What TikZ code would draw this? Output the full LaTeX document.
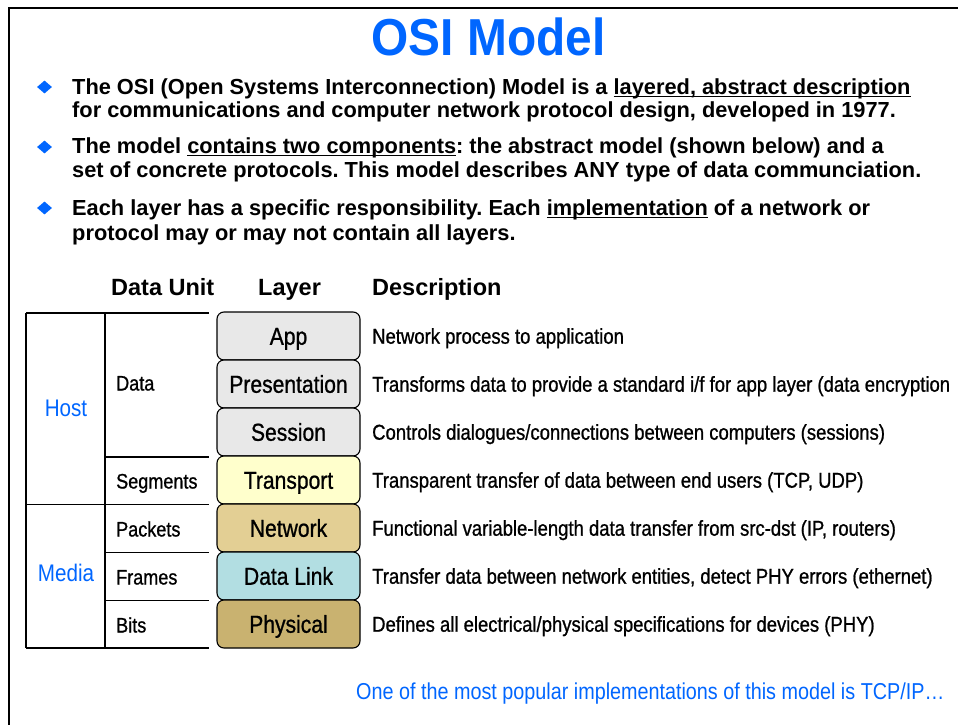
\documentclass[tikz,border=0pt]{standalone}
\usepackage{fontspec}
\setmainfont{Liberation Sans}
\newfontfamily\narrowfont[FakeStretch=0.86]{Liberation Sans}
\newfontfamily\narrowmedfont[FakeStretch=0.86,FakeBold=0.9]{Liberation Sans}
\newfontfamily\titlefont[FakeStretch=0.92]{Liberation Sans}
\frenchspacing
\newsavebox{\ulxbox}
\newcommand{\ulx}[1]{\sbox{\ulxbox}{#1}\rlap{\vrule height -2.2pt depth 3.3pt width \wd\ulxbox}\usebox{\ulxbox}}
\usetikzlibrary{shapes.geometric}
\definecolor{osiblue}{RGB}{0,102,255}
\definecolor{layergray}{RGB}{232,232,232}
\definecolor{layeryellow}{RGB}{255,255,204}
\definecolor{layertan}{RGB}{227,207,148}
\definecolor{layercyan}{RGB}{178,222,226}
\definecolor{layerbrown}{RGB}{201,178,112}
\begin{document}
\begin{tikzpicture}[x=1pt,y=-1pt,
  frameline/.style={line width=2pt, black},
  tableline/.style={line width=1.1pt, black},
  titletext/.style={inner sep=0, text=osiblue, font=\titlefont\bfseries\fontsize{52}{60}\selectfont, text height=37pt, text depth=0pt},
  bullettext/.style={anchor=base west, inner sep=0, font=\bfseries\fontsize{21.8}{26}\selectfont},
  bulletmark/.style={diamond, fill=osiblue, inner sep=0, minimum width=15pt, minimum height=13pt},
  headertext/.style={anchor=base west, inner sep=0, font=\bfseries\fontsize{23.5}{28}\selectfont},
  layerbox/.style={draw=black, line width=1.1pt, rounded corners=7pt, minimum width=143pt, minimum height=48pt, inner sep=0, font=\narrowmedfont\fontsize{24.5}{28}\selectfont, text height=17.5pt, text depth=0pt},
  desctext/.style={anchor=west, inner sep=0, font=\narrowmedfont\fontsize{21.5}{25}\selectfont, text height=15.4pt, text depth=0pt},
  unittext/.style={anchor=west, inner sep=0, font=\narrowmedfont\fontsize{21}{25}\selectfont, text height=15pt, text depth=0pt},
  grouptext/.style={inner sep=0, text=osiblue, font=\narrowfont\fontsize{24}{28}\selectfont, text height=17.2pt, text depth=0pt},
  notetext/.style={anchor=base west, inner sep=0, text=osiblue, font=\narrowfont\fontsize{23}{27}\selectfont}
]
\clip (0,0) rectangle (958,725);
\fill[white] (0,0) rectangle (958,725);
% slide frame (top and left edges visible)
\draw[frameline] (8.8,726) -- (8.8,8) -- (960,8);

% title
\node[titletext] (title) at (488.5,37.5) {OSI Model};

% bullets
\node[bulletmark] (m1) at (44.5,87) {};
\node[bullettext] (b1a) at (72,94) {The OSI (Open Systems Interconnection) Model is a \ulx{layered, abstract description}};
\node[bullettext] (b1b) at (72,117) {for communications and computer network protocol design, developed in 1977.};
\node[bulletmark] (m2) at (44.5,147) {};
\node[bullettext] (b2a) at (72,153) {The model \ulx{contains two components}: the abstract model (shown below) and a};
\node[bullettext] (b2b) at (72,177) {set of concrete protocols. This model describes ANY type of data communciation.};
\node[bulletmark] (m3) at (44.5,208) {};
\node[bullettext] (b3a) at (72,215) {Each layer has a specific responsibility. Each \ulx{implementation} of a network or};
\node[bullettext] (b3b) at (72,240) {protocol may or may not contain all layers.};

% headers
\node[headertext] (hunit) at (111,295) {Data Unit};
\node[headertext] (hlayer) at (258,295) {Layer};
\node[headertext] (hdesc) at (372,295) {Description};

% table grid
\draw[tableline] (26,313) -- (209,313);
\draw[tableline] (26,313) -- (26,648);
\draw[tableline] (105,313) -- (105,648);
\draw[tableline] (105,457) -- (209,457);
\draw[tableline] (26,504.5) -- (209,504.5);
\draw[tableline] (105,552.5) -- (209,552.5);
\draw[tableline] (105,600.5) -- (209,600.5);
\draw[tableline] (26,648) -- (209,648);

% group labels
\node[grouptext] (host) at (66,408) {Host};
\node[grouptext] (media) at (66,572.5) {Media};

% data unit labels
\node[unittext] (udata) at (116,383) {Data};
\node[unittext] (useg) at (116,481) {Segments};
\node[unittext] (upkt) at (116,529) {Packets};
\node[unittext] (ufrm) at (116,577) {Frames};
\node[unittext] (ubits) at (116,625) {Bits};

% layer boxes
\node[layerbox, fill=layergray] (app) at (288.5,336) {App};
\node[layerbox, fill=layergray] (pres) at (288.5,384) {Presentation};
\node[layerbox, fill=layergray] (sess) at (288.5,432) {Session};
\node[layerbox, fill=layeryellow] (trans) at (288.5,480) {Transport};
\node[layerbox, fill=layertan] (net) at (288.5,528) {Network};
\node[layerbox, fill=layercyan] (link) at (288.5,576) {Data Link};
\node[layerbox, fill=layerbrown] (phys) at (288.5,624) {Physical};

% descriptions
\node[desctext] (dapp) at (372,336) {Network process to application};
\node[desctext] (dpres) at (372,384) {Transforms data to provide a standard i/f for app layer (data encryption};
\node[desctext] (dsess) at (372,432) {Controls dialogues/connections between computers (sessions)};
\node[desctext] (dtrans) at (372,480) {Transparent transfer of data between end users (TCP, UDP)};
\node[desctext] (dnet) at (372,528) {Functional variable-length data transfer from src-dst (IP, routers)};
\node[desctext] (dlink) at (372,576) {Transfer data between network entities, detect PHY errors (ethernet)};
\node[desctext] (dphys) at (372,624) {Defines all electrical/physical specifications for devices (PHY)};

% note
\node[notetext] (note) at (356,699) {One of the most popular implementations of this model is TCP/IP…};
\end{tikzpicture}
\end{document}
